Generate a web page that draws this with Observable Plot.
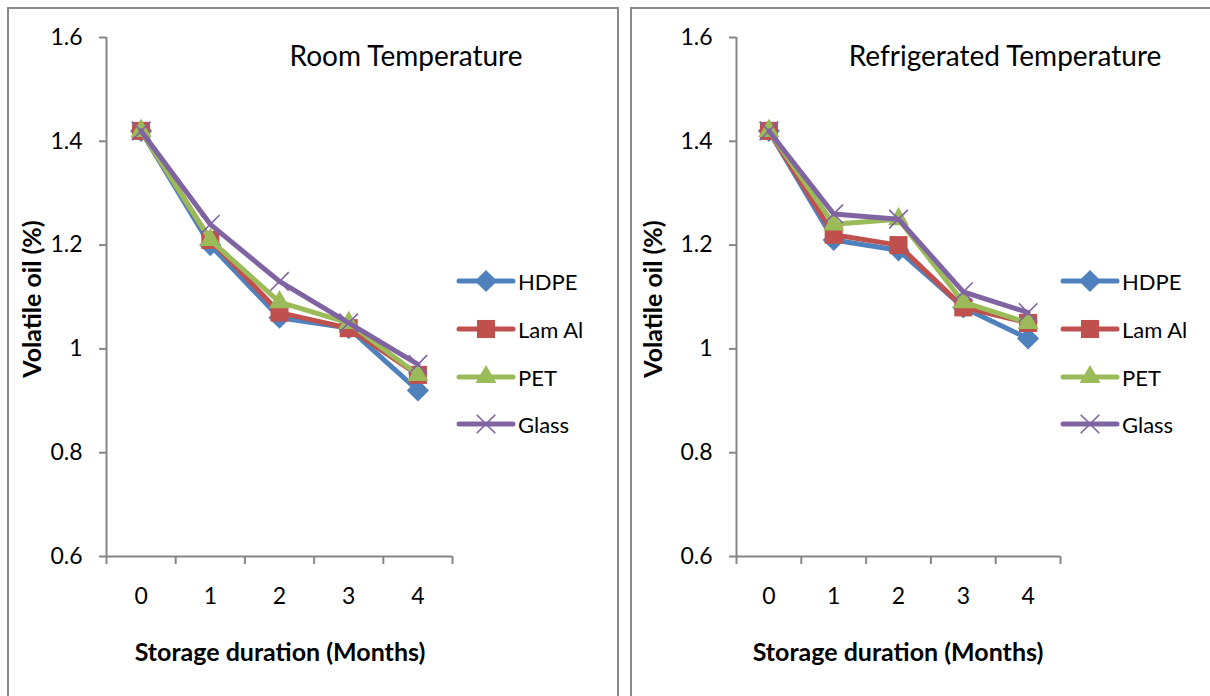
<!DOCTYPE html>
<html>
<head>
<meta charset="utf-8">
<script src="https://cdn.jsdelivr.net/npm/d3@7"></script>
<script src="https://cdn.jsdelivr.net/npm/@observablehq/plot@0.6"></script>
<style>
  body { margin: 0; background: white; }
  #root { position: relative; width: 1210px; height: 696px; overflow: hidden; background: white; font-family: Lato, "Open Sans", sans-serif; color: black; }
  .panel { position: absolute; border: 2px solid #8a8a8a; box-sizing: border-box; }
  .lbl { position: absolute; white-space: nowrap; transform: translate(-50%, -50%); line-height: 1; }
  .plot { position: absolute; top: 0; }
  .leg { position: absolute; display: flex; align-items: center; }
</style>
</head>
<body>
<div id="root"></div>
<script>
// ---------- data ----------
const months = [0, 1, 2, 3, 4];
const seriesNames = ["HDPE", "Lam Al", "PET", "Glass"];
const yTicks = [0.6, 0.8, 1.0, 1.2, 1.4, 1.6];

// Room temperature
const roomHDPE  = [1.42, 1.20, 1.06, 1.04, 0.92];
const roomLamAl = [1.42, 1.21, 1.07, 1.04, 0.95];
const roomPET   = [1.42, 1.21, 1.09, 1.05, 0.95];
const roomGlass = [1.42, 1.24, 1.13, 1.05, 0.97];

// Refrigerated temperature
const fridgeHDPE  = [1.42, 1.21, 1.19, 1.08, 1.02];
const fridgeLamAl = [1.42, 1.22, 1.20, 1.08, 1.05];
const fridgePET   = [1.42, 1.24, 1.25, 1.09, 1.05];
const fridgeGlass = [1.42, 1.26, 1.25, 1.11, 1.07];

const titles = ["Room Temperature", "Refrigerated Temperature"];
const xTitle = "Storage duration (Months)";
const yTitle = "Volatile oil (%)";

const colors = ["#4F81BD", "#C0504D", "#9BBB59", "#8064A2"];
const symbols = ["diamond2", "square2", "triangle2", "times"];
const symbolR = { diamond2: 10, square2: 11.5, triangle2: 10, times: 8.5 };

function tidy(arrays) {
  const rows = [];
  arrays.forEach((arr, si) => arr.forEach((v, i) => rows.push({ series: seriesNames[si], month: months[i], value: v })));
  return rows;
}
const roomRows = tidy([roomHDPE, roomLamAl, roomPET, roomGlass]);
const fridgeRows = tidy([fridgeHDPE, fridgeLamAl, fridgePET, fridgeGlass]);

const axisGray = "#868686";
const fontFam = 'Lato, "Open Sans", sans-serif';
const boundaries = [...months.map(m => m - 0.5), months[months.length - 1] + 0.5];

function makePanel(rows, width, marginLeft, marginRight) {
  const seriesMarks = seriesNames.flatMap((name, i) => {
    const d = rows.filter(r => r.series === name);
    const isTimes = symbols[i] === "times";
    return [
      Plot.line(d, { x: "month", y: "value", stroke: colors[i], strokeWidth: 5, strokeLinejoin: "round", strokeLinecap: "round" }),
      Plot.dot(d, {
        x: "month", y: "value", symbol: symbols[i],
        r: symbolR[symbols[i]],
        fill: isTimes ? "none" : colors[i],
        stroke: colors[i], strokeWidth: isTimes ? 1.6 : 0
      })
    ];
  });
  return Plot.plot({
    width, height: 696,
    marginLeft, marginRight, marginTop: 37, marginBottom: 140,
    style: { fontFamily: fontFam, fontSize: "23px", color: "black", background: "transparent", overflow: "visible" },
    x: { type: "linear", domain: [boundaries[0], boundaries[boundaries.length - 1]] },
    y: { domain: [yTicks[0], yTicks[yTicks.length - 1]] },
    marks: [
      Plot.axisY({ ticks: yTicks, tickSize: 7, tickPadding: 17, tickFormat: d => String(Math.round(d * 10) / 10), stroke: axisGray, strokeWidth: 2, fill: "black", label: null, fontSize: 23 }),
      Plot.axisX({ ticks: boundaries, tickSize: 8, tickFormat: () => "", stroke: axisGray, strokeWidth: 2, label: null }),
      Plot.axisX({ ticks: months, tickSize: 0, tickPadding: 31, tickFormat: d => String(d), fill: "black", label: null, fontSize: 23 }),
      Plot.ruleX([boundaries[0]], { stroke: axisGray, strokeWidth: 2 }),
      Plot.ruleY([yTicks[0]], { stroke: axisGray, strokeWidth: 2 }),
      ...seriesMarks
    ]
  });
}

const root = document.getElementById("root");

function addDiv(cls, css, text) {
  const el = document.createElement("div");
  el.className = cls;
  Object.assign(el.style, css);
  if (text != null) el.textContent = text;
  root.appendChild(el);
  return el;
}
// panel frames
addDiv("panel", { left: "7px", top: "7px", width: "612px", height: "720px" });
addDiv("panel", { left: "630px", top: "7px", width: "620px", height: "720px" });

// plots
const p1 = makePanel(roomRows, 616, 106, 164);
p1.classList.add("plot"); p1.style.left = "0px";
root.appendChild(p1);
const p2 = makePanel(fridgeRows, 590, 116, 150);
p2.classList.add("plot"); p2.style.left = "620px";
root.appendChild(p2);

// titles and axis titles
addDiv("lbl", { left: "406px", top: "55px", fontSize: "28px" }, titles[0]);
addDiv("lbl", { left: "1005px", top: "55px", fontSize: "28px" }, titles[1]);
addDiv("lbl", { left: "280px", top: "651px", fontSize: "25px", fontWeight: "bold" }, xTitle);
addDiv("lbl", { left: "898px", top: "651px", fontSize: "25px", fontWeight: "bold" }, xTitle);
addDiv("lbl", { left: "31px", top: "299px", fontSize: "25px", fontWeight: "bold", transform: "translate(-50%, -50%) rotate(-90deg)" }, yTitle);
addDiv("lbl", { left: "652px", top: "299px", fontSize: "25px", fontWeight: "bold", transform: "translate(-50%, -50%) rotate(-90deg)" }, yTitle);

// legends
const legendYs = [281, 329, 377, 424];
function addLegend(x0) {
  seriesNames.forEach((name, i) => {
    const row = addDiv("leg", { left: x0 + "px", top: (legendYs[i] - 15) + "px", height: "30px" });
    const svg = d3.create("svg").attr("width", 60).attr("height", 30).style("overflow", "visible");
    svg.append("line").attr("x1", 2).attr("x2", 56).attr("y1", 15).attr("y2", 15)
      .attr("stroke", colors[i]).attr("stroke-width", 5).attr("stroke-linecap", "round");
    const sym = { diamond2: d3.symbolDiamond2, square2: d3.symbolSquare2, triangle2: d3.symbolTriangle2, times: d3.symbolTimes }[symbols[i]];
    const isTimes = symbols[i] === "times";
    const r = symbolR[symbols[i]];
    svg.append("path").attr("transform", "translate(29,15)")
      .attr("d", d3.symbol(sym, Math.PI * r * r)())
      .attr("fill", isTimes ? "none" : colors[i])
      .attr("stroke", isTimes ? colors[i] : "none").attr("stroke-width", 1.6);
    row.appendChild(svg.node());
    const t = document.createElement("span");
    t.textContent = name;
    t.style.fontSize = "22px";
    t.style.marginLeft = "1px";
    row.appendChild(t);
  });
}
addLegend(457);
addLegend(1061);
</script>
</body>
</html>
